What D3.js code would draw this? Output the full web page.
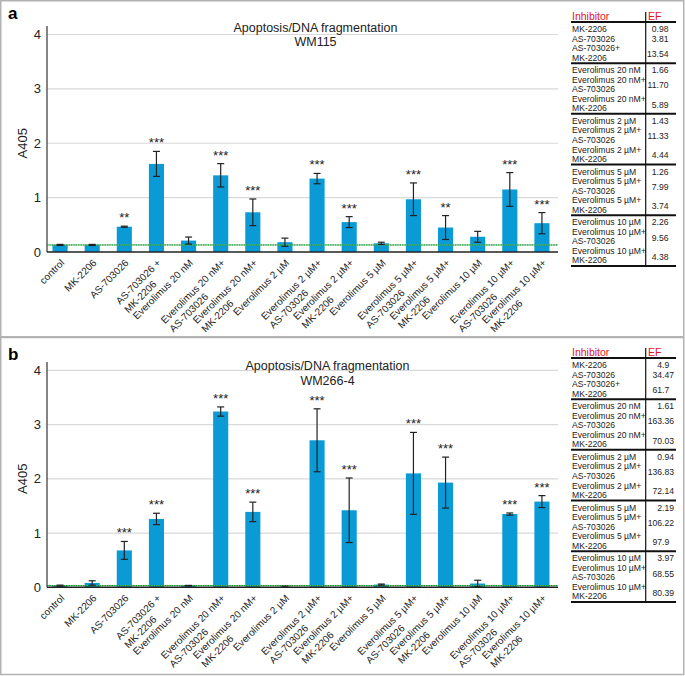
<!DOCTYPE html>
<html>
<head>
<meta charset="utf-8">
<script src="https://cdn.jsdelivr.net/npm/d3@7/dist/d3.min.js"></script>
<style>
  html, body { margin: 0; padding: 0; background: #fff; }
  svg { display: block; font-family: "Liberation Sans", Arial, sans-serif; }
</style>
</head>
<body>
<svg id="chart" width="685" height="676"></svg>
<script>
// ---------- DATA ----------
const categories = [
  ["control"], ["MK-2206"], ["AS-703026"], ["AS-703026 +", "MK-2206"],
  ["Everolimus 20 nM"], ["Everolimus 20 nM+", "AS-703026"], ["Everolimus 20 nM+", "MK-2206"],
  ["Everolimus 2 µM"], ["Everolimus 2 µM+", "AS-703026"], ["Everolimus 2 µM+", "MK-2206"],
  ["Everolimus 5 µM"], ["Everolimus 5 µM+", "AS-703026"], ["Everolimus 5 µM+", "MK-2206"],
  ["Everolimus 10 µM"], ["Everolimus 10 µM+", "AS-703026"], ["Everolimus 10 µM+", "MK-2206"]
];
const yTicks = [0, 1, 2, 3, 4];

const valuesA = [0.13, 0.13, 0.465, 1.62, 0.21, 1.41, 0.73, 0.18, 1.35, 0.55, 0.16, 0.97, 0.45, 0.28, 1.15, 0.53];
const errorsA = [0.01, 0.01, 0.01, 0.23, 0.065, 0.215, 0.245, 0.075, 0.095, 0.10, 0.02, 0.30, 0.22, 0.10, 0.31, 0.195];
const starsA  = ["", "", "**", "***", "", "***", "***", "", "***", "***", "", "***", "**", "", "***", "***"];
const controlLineA = 0.13;

const valuesB = [0.03, 0.08, 0.68, 1.26, 0.03, 3.24, 1.39, 0.01, 2.71, 1.42, 0.05, 2.10, 1.93, 0.07, 1.35, 1.58];
const errorsB = [0.01, 0.04, 0.165, 0.105, 0.005, 0.085, 0.18, 0.01, 0.58, 0.595, 0.01, 0.755, 0.47, 0.06, 0.02, 0.11];
const starsB  = ["", "", "***", "***", "", "***", "***", "", "***", "***", "", "***", "***", "", "***", "***"];
const controlLineB = 0.03;

const tableGroups = [
  [["MK-2206"], ["AS-703026"], ["AS-703026+", "MK-2206"]],
  [["Everolimus 20 nM"], ["Everolimus 20 nM+", "AS-703026"], ["Everolimus 20 nM+", "MK-2206"]],
  [["Everolimus 2 µM"], ["Everolimus 2 µM+", "AS-703026"], ["Everolimus 2 µM+", "MK-2206"]],
  [["Everolimus 5 µM"], ["Everolimus 5 µM+", "AS-703026"], ["Everolimus 5 µM+", "MK-2206"]],
  [["Everolimus 10 µM"], ["Everolimus 10 µM+", "AS-703026"], ["Everolimus 10 µM+", "MK-2206"]]
];
const efA = ["0.98", "3.81", "13.54", "1.66", "11.70", "5.89", "1.43", "11.33", "4.44", "1.26", "7.99", "3.74", "2.26", "9.56", "4.38"];
const efB = ["4.9", "34.47", "61.7", "1.61", "163.36", "70.03", "0.94", "136.83", "72.14", "2.19", "106.22", "97.9", "3.97", "68.55", "80.39"];

const titleMain = "Apoptosis/DNA fragmentation";
const cellLines = ["WM115", "WM266-4"];
const panelLetters = ["a", "b"];
const yLabel = "A405";

// ---------- LAYOUT ----------
const svg = d3.select("#chart");
const BAR = "#0a9bd7";
const panels = [
  { letter: panelLetters[0], cell: cellLines[0], values: valuesA, errors: errorsA, stars: starsA, ctrl: controlLineA, ef: efA,
    boxY: 0.75, boxH: 336, y0: 252, y4: 34.5, axisTop: 26, titleX: 315.5, t1: 31.5, t2: 45.5, letterY: 18.5, tab: 0, decX: 656.5 },
  { letter: panelLetters[1], cell: cellLines[1], values: valuesB, errors: errorsB, stars: starsB, ctrl: controlLineB, ef: efB,
    boxY: 337.5, boxH: 337, y0: 587.3, y4: 370.3, axisTop: 362, titleX: 327.5, t1: 369.5, t2: 384.5, letterY: 360, tab: 336, decX: 662 }
];

const x = d3.scaleBand()
  .domain(categories.map(c => c.join(" ")))
  .range([44, 558])
  .paddingInner(0.53)
  .paddingOuter(0.265);

panels.forEach(p => {
  const g = svg.append("g");
  // panel border
  g.append("rect").attr("x", 0.75).attr("y", p.boxY).attr("width", 683).attr("height", p.boxH)
    .attr("fill", "none").attr("stroke", "#b3b3b3").attr("stroke-width", 1.5);

  const y = d3.scaleLinear().domain([0, 4]).range([p.y0, p.y4]);

  // gridlines
  g.selectAll(".grid").data(yTicks.filter(t => t > 0)).enter().append("line")
    .attr("x1", 47).attr("x2", 558).attr("y1", d => y(d)).attr("y2", d => y(d))
    .attr("stroke", "#d9d9d9").attr("stroke-width", 1.2);

  // y tick labels
  g.selectAll(".yt").data(yTicks).enter().append("text")
    .attr("x", 41).attr("y", d => y(d) + 4.5).attr("text-anchor", "end")
    .attr("font-size", 13).attr("fill", "#222").text(d => d);

  // y axis line
  g.append("line").attr("x1", 47).attr("x2", 47).attr("y1", p.axisTop).attr("y2", p.y0)
    .attr("stroke", "#333").attr("stroke-width", 1.2);

  // y label
  g.append("text").attr("transform", `translate(27,${(p.y0 + p.y4) / 2}) rotate(-90)`)
    .attr("font-size", 13).attr("fill", "#222").attr("text-anchor", "middle").text(yLabel);

  // bars
  g.selectAll(".bar").data(p.values).enter().append("rect")
    .attr("x", (d, i) => x(categories[i].join(" ")))
    .attr("width", x.bandwidth())
    .attr("y", d => y(d)).attr("height", d => p.y0 - y(d))
    .attr("fill", BAR);

  // control line (green dotted)
  g.append("line").attr("x1", 47).attr("x2", 558).attr("y1", y(p.ctrl)).attr("y2", y(p.ctrl))
    .attr("stroke", "#5fbf6a").attr("stroke-width", 1);
  g.append("line").attr("x1", 47).attr("x2", 558).attr("y1", y(p.ctrl)).attr("y2", y(p.ctrl))
    .attr("stroke", "#138a2e").attr("stroke-width", 1.1).attr("stroke-dasharray", "1.2,1.2");

  // error bars
  p.values.forEach((v, i) => {
    const cx = x(categories[i].join(" ")) + x.bandwidth() / 2;
    const e = p.errors[i];
    const hi = y(v + e), lo = y(Math.max(0, v - e));
    const eg = g.append("g").attr("stroke", "#222").attr("stroke-width", 1.2);
    eg.append("line").attr("x1", cx).attr("x2", cx).attr("y1", hi).attr("y2", lo);
    eg.append("line").attr("x1", cx - 3.5).attr("x2", cx + 3.5).attr("y1", hi).attr("y2", hi);
    eg.append("line").attr("x1", cx - 3.5).attr("x2", cx + 3.5).attr("y1", lo).attr("y2", lo);
    if (p.stars[i]) {
      g.append("text").attr("x", cx).attr("y", hi - 4).attr("text-anchor", "middle")
        .attr("font-size", 13).attr("fill", "#222").text(p.stars[i]);
    }
  });

  // x axis line
  g.append("line").attr("x1", 47).attr("x2", 558).attr("y1", p.y0).attr("y2", p.y0)
    .attr("stroke", "#222").attr("stroke-width", 1.5);

  // x labels (rotated, lines left aligned, first line ends at tick)
  categories.forEach((lines, i) => {
    const cx = x(lines.join(" ")) + x.bandwidth() / 2;
    const t = g.append("text")
      .attr("transform", `translate(${cx + 5},${p.y0 + 11.5}) rotate(-45)`)
      .attr("font-size", 10).attr("fill", "#222");
    const first = t.append("tspan").attr("x", 0).attr("y", 0).text(lines[0]);
    const w = first.node().getComputedTextLength();
    first.attr("x", -w);
    for (let k = 1; k < lines.length; k++) {
      t.append("tspan").attr("x", -w).attr("y", 12 * k).text(lines[k]);
    }
  });

  // title
  g.append("text").attr("x", p.titleX).attr("y", p.t1).attr("text-anchor", "middle")
    .attr("font-size", 12.5).attr("fill", "#222").text(titleMain);
  g.append("text").attr("x", p.titleX).attr("y", p.t2).attr("text-anchor", "middle")
    .attr("font-size", 12.5).attr("fill", "#222").text(p.cell);

  // panel letter
  g.append("text").attr("x", 8).attr("y", p.letterY).attr("font-size", 17)
    .attr("font-weight", "bold").attr("fill", "#000").text(p.letter);

  // ---------- table ----------
  const o = p.tab;
  const tx0 = 571, tx1 = 676, vx = 645.7;
  g.append("text").attr("x", 572).attr("y", o + 19.5).attr("font-size", 10.5).attr("fill", "#e3141c").text("Inhibitor");
  g.append("text").attr("x", 648).attr("y", o + 19.5).attr("font-size", 10.5).attr("fill", "#e3141c").text("EF");
  let sep = o + 22;
  g.append("line").attr("x1", tx0).attr("x2", tx1).attr("y1", sep).attr("y2", sep).attr("stroke", "#111").attr("stroke-width", 2);
  let idx = 0;
  const sp = 9.55;
  tableGroups.forEach(group => {
    let c = sep + 7;
    group.forEach(item => {
      const centers = item.map((_, k) => c + k * sp);
      item.forEach((ln, k) => {
        g.append("text").attr("x", 572).attr("y", centers[k] + 3).attr("font-size", 8.6).attr("fill", "#222").text(ln);
      });
      const vc = item.length === 1 ? centers[0] : (centers[0] + centers[centers.length - 1]) / 2 + 1;
      const val = p.ef[idx];
      const intPart = val.split(".")[0];
      const tmp = g.append("text").attr("font-size", 8.6).text(intPart);
      const iw = tmp.node().getComputedTextLength();
      tmp.remove();
      g.append("text").attr("x", p.decX - iw).attr("y", vc + 3).attr("font-size", 8.6).attr("fill", "#222").text(val);
      idx++;
      c += item.length * sp;
    });
    sep = c - sp + 5.5;
    g.append("line").attr("x1", tx0).attr("x2", tx1).attr("y1", sep).attr("y2", sep).attr("stroke", "#111").attr("stroke-width", 2);
  });
  g.append("line").attr("x1", vx).attr("x2", vx).attr("y1", o + 12).attr("y2", sep).attr("stroke", "#111").attr("stroke-width", 1.2);
});
</script>
</body>
</html>
